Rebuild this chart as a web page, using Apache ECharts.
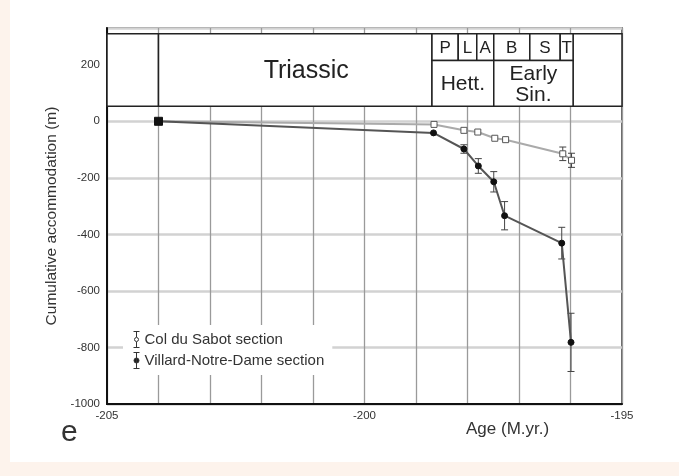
<!DOCTYPE html>
<html>
<head>
<meta charset="utf-8">
<script src="https://cdn.jsdelivr.net/npm/echarts@6/dist/echarts.min.js"></script>
<style>
html,body{margin:0;padding:0;background:#fdf3ec;}
#bg{position:absolute;left:10px;top:0;width:669px;height:462px;background:#fff;}
#chart{position:absolute;left:0;top:0;width:679px;height:476px;}
</style>
</head>
<body>
<div id="bg"></div>
<div id="chart"></div>
<script>
// ---- data ----
const sabotAge = [-204, -198.65, -198.07, -197.80, -197.47, -197.26, -196.15, -195.98];
const sabotAcc = [0, -11, -32, -38, -60, -65, -115, -138];
const sabotErr = [0, 0, 0, 0, 0, 0, 24, 25];
const villardAge = [-204, -198.66, -198.07, -197.79, -197.49, -197.28, -196.17, -195.99];
const villardAcc = [0, -41, -98, -158, -214, -334, -431, -782];
const villardErr = [0, 0, 15, 26, 36, 50, 56, 103];
const seriesNames = ['Col du Sabot section', 'Villard-Notre-Dame section'];
const xTickLabels = [-205, -200, -195];
const yTickLabels = [200, 0, -200, -400, -600, -800, -1000];
const periodNames = ['', 'Triassic', ''];
const stageNames = ['P', 'L', 'A', 'B', 'S', 'T'];
const stageBounds = [-198.69, -198.18, -197.82, -197.49, -196.79, -196.20, -195.95];
const ageNames = ['Hett.', 'Early\nSin.'];
const ageBounds = [-198.69, -197.49, -195.95];

// header vertical extents (in axis units)
const HDR_TOP = 310, HDR_MID = 215, HDR_BOT = 53;

// build header boxes
const hdrData = [];
const hdrLabels = [];
const hdrFont = [];
const hdrDx = [];
hdrData.push([-205, -204, HDR_TOP, HDR_BOT]); hdrLabels.push(periodNames[0]); hdrFont.push(20); hdrDx.push(0);
hdrData.push([-204, -198.69, HDR_TOP, HDR_BOT]); hdrLabels.push(periodNames[1]); hdrFont.push(25); hdrDx.push(11);
hdrData.push([-195.95, -195, HDR_TOP, HDR_BOT]); hdrLabels.push(periodNames[2]); hdrFont.push(20); hdrDx.push(0);
for (let i = 0; i < stageNames.length; i++) {
  hdrData.push([stageBounds[i], stageBounds[i + 1], HDR_TOP, HDR_MID]);
  hdrLabels.push(stageNames[i]); hdrFont.push(17); hdrDx.push(0);
}
for (let i = 0; i < ageNames.length; i++) {
  hdrData.push([ageBounds[i], ageBounds[i + 1], HDR_MID, HDR_BOT]);
  hdrLabels.push(ageNames[i]); hdrFont.push(21); hdrDx.push(0);
}

const FONT = '"Liberation Sans", Arial, Helvetica, sans-serif';

const sabotData = sabotAge.map((a, i) => i === 0 ? {value: [a, sabotAcc[i]], symbol: 'none'} : [a, sabotAcc[i]]);
const villardData = villardAge.map((a, i) => i === 0 ? {value: [a, villardAcc[i]], symbol: 'rect', symbolSize: 8} : [a, villardAcc[i]]);
const errData = [];
sabotAge.forEach((a, i) => { if (sabotErr[i] > 0) errData.push([a, sabotAcc[i] - sabotErr[i], sabotAcc[i] + sabotErr[i]]); });
villardAge.forEach((a, i) => { if (villardErr[i] > 0) errData.push([a, villardAcc[i] - villardErr[i], villardAcc[i] + villardErr[i]]); });

const chart = echarts.init(document.getElementById('chart'), null, {renderer: 'canvas'});
chart.setOption({
  backgroundColor: 'transparent',
  animation: false,
  grid: {left: 107, right: 57, top: 28, bottom: 72, show: true, borderColor: '#333', borderWidth: 1.5, backgroundColor: 'transparent'},
  xAxis: {
    type: 'value', min: -205, max: -195, interval: 1,
    axisLine: {show: true, onZero: false, lineStyle: {color: '#111', width: 2}},
    axisTick: {show: false},
    axisLabel: {
      fontFamily: FONT, fontSize: 11.5, color: '#333', margin: 6,
      formatter: v => xTickLabels.indexOf(v) >= 0 ? String(v) : ''
    },
    splitLine: {show: true, lineStyle: {color: '#9a9a9a', width: 1.3}}
  },
  yAxis: {
    type: 'value', min: -1000, max: 330, interval: 200,
    name: 'Cumulative accommodation (m)', nameLocation: 'middle', nameGap: 42,
    nameTextStyle: {fontFamily: FONT, fontSize: 15.5, color: '#333'},
    axisLine: {show: true, onZero: false, lineStyle: {color: '#111', width: 2}},
    axisTick: {show: false},
    axisLabel: {
      fontFamily: FONT, fontSize: 11.5, color: '#333', margin: 7,
      formatter: v => yTickLabels.indexOf(v) >= 0 ? String(v) : ''
    },
    splitLine: {show: true, lineStyle: {color: '#d2d2d2', width: 2.5}}
  },
  legend: {
    orient: 'vertical', left: 123, top: 325,
    backgroundColor: '#fff', padding: [6, 8, 6, 10],
    itemWidth: 6, itemHeight: 16, itemGap: 4,
    textStyle: {fontFamily: FONT, fontSize: 15, color: '#333', lineHeight: 16},
    data: [
      {name: seriesNames[0], icon: 'path://M0,0L6,0M3,0L3,5.5M3,10.5L3,16M0,16L6,16M5,8A2,2,0,1,1,1,8A2,2,0,1,1,5,8Z',
        itemStyle: {color: '#fff', borderColor: '#333', borderWidth: 1}},
      {name: seriesNames[1], icon: 'path://M0,0L6,0M3,0L3,16M0,16L6,16M5.5,8A2.5,2.5,0,1,1,0.5,8A2.5,2.5,0,1,1,5.5,8Z',
        itemStyle: {color: '#222', borderColor: '#333', borderWidth: 1}}
    ]
  },
  graphic: [
    {type: 'text', left: 466, top: 421, style: {text: 'Age (M.yr.)', font: '17px ' + FONT, fill: '#333'}},
    {type: 'text', left: 61, top: 418, style: {text: 'e', font: '30px ' + FONT, fill: '#333'}}
  ],
  series: [
    {
      type: 'custom', name: 'header', silent: true, z: 1,
      encode: {x: [0, 1], y: [2, 3]},
      data: hdrData,
      renderItem: function (params, api) {
        const p0 = api.coord([api.value(0), api.value(2)]);
        const p1 = api.coord([api.value(1), api.value(3)]);
        const idx = params.dataIndex;
        const fs = hdrFont[idx];
        return {
          type: 'group', children: [
            {type: 'rect', shape: {x: p0[0], y: p0[1], width: p1[0] - p0[0], height: p1[1] - p0[1]},
              style: {fill: '#fff', stroke: '#222', lineWidth: 1.5}},
            {type: 'text', style: {text: hdrLabels[idx], x: (p0[0] + p1[0]) / 2 + hdrDx[idx], y: (p0[1] + p1[1]) / 2 + 1,
              align: 'center', verticalAlign: 'middle', font: fs + 'px ' + FONT, fill: '#222', lineHeight: 21}}
          ]
        };
      }
    },
    {
      type: 'custom', name: 'errors', silent: true, z: 3,
      encode: {x: 0, y: [1, 2]},
      data: errData,
      renderItem: function (params, api) {
        const lo = api.coord([api.value(0), api.value(1)]);
        const hi = api.coord([api.value(0), api.value(2)]);
        const w = 3.5;
        const st = {stroke: '#444', lineWidth: 1};
        return {
          type: 'group', children: [
            {type: 'line', shape: {x1: lo[0], y1: lo[1], x2: hi[0], y2: hi[1]}, style: st},
            {type: 'line', shape: {x1: lo[0] - w, y1: lo[1], x2: lo[0] + w, y2: lo[1]}, style: st},
            {type: 'line', shape: {x1: hi[0] - w, y1: hi[1], x2: hi[0] + w, y2: hi[1]}, style: st}
          ]
        };
      }
    },
    {
      type: 'line', name: seriesNames[0], z: 4,
      data: sabotData,
      symbol: 'rect', symbolSize: 6,
      lineStyle: {color: '#aaaaaa', width: 2},
      itemStyle: {color: '#fff', borderColor: '#555', borderWidth: 1}
    },
    {
      type: 'line', name: seriesNames[1], z: 5,
      data: villardData,
      symbol: 'circle', symbolSize: 6,
      lineStyle: {color: '#555', width: 2},
      itemStyle: {color: '#111', borderColor: '#111', borderWidth: 1}
    }
  ]
});
</script>
</body>
</html>
